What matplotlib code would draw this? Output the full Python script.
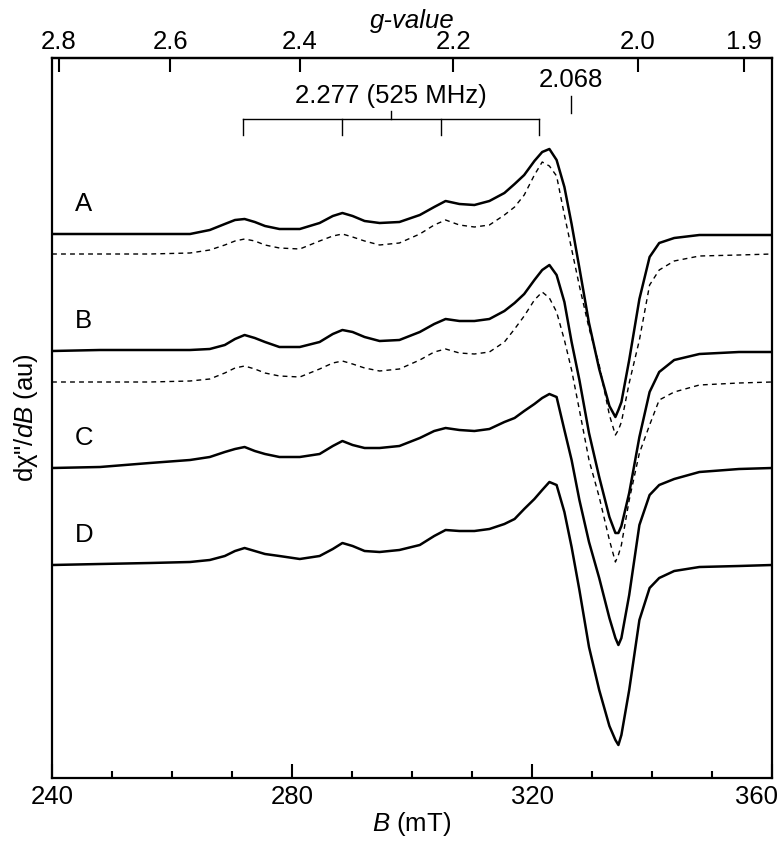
import numpy as np
import matplotlib
matplotlib.use('Agg')
from matplotlib import pyplot as plt
from matplotlib.ticker import MultipleLocator, NullLocator
from matplotlib.transforms import ScaledTranslation

plt.rcParams['font.family'] = ['Liberation Sans', 'DejaVu Sans']
plt.rcParams['mathtext.fontset'] = 'custom'
plt.rcParams['mathtext.rm'] = 'Liberation Sans'
plt.rcParams['mathtext.it'] = 'Liberation Sans:italic'

FREQ = 9.45      # GHz, microwave frequency
HB = 71.4477     # h/muB in mT GHz
FS = 18.5

# magnetic field (mT)
field = np.array([240.0, 248.0, 256.3, 263.0, 266.3, 268.8, 270.5, 272.1, 273.8, 275.5,
                  277.9, 281.3, 284.6, 286.8, 288.4, 290.1, 292.1, 294.6, 297.9, 301.3,
                  303.7, 305.6, 307.9, 310.4, 312.9, 315.4, 317.1, 318.7, 320.4, 321.7,
                  322.9, 324.1, 325.4, 326.6, 327.9, 329.5, 331.2, 332.9, 333.9, 334.4,
                  334.9, 336.2, 337.9, 339.6, 341.2, 343.7, 347.9, 354.5, 360.0])

# derivative signals (au), relative to each trace baseline
trace_a = [0, 0, 0, 0, 4, 10, 14, 15, 12, 8,
           5, 5, 11, 18, 21, 18, 13, 11, 12, 19,
           27, 33, 30, 29, 33, 41, 50, 59, 73, 82,
           85, 74, 47, 10, -34, -89, -135, -172, -183, -176,
           -168, -126, -65, -23, -9, -4, -1, -1, -1]
sim_a = [0, 0, 0, 1, 4, 9, 13, 15, 13, 9,
         6, 5, 13, 18, 20, 17, 13, 9, 11, 20,
         29, 34, 29, 27, 29, 39, 47, 59, 79, 92,
         88, 78, 39, 5, -32, -74, -111, -161, -181, -176,
         -168, -129, -86, -31, -16, -7, -2, -1, 0]
trace_b = [0, 1, 1, 1, 2, 6, 12, 16, 13, 9,
           4, 4, 9, 17, 21, 19, 14, 10, 11, 19,
           27, 32, 30, 30, 32, 40, 48, 57, 71, 81,
           86, 76, 49, 9, -29, -82, -126, -166, -182, -182,
           -175, -142, -86, -41, -21, -9, -3, -1, -1]
sim_b = [0, 0, 0, 1, 3, 9, 14, 16, 13, 9,
         6, 5, 13, 19, 21, 18, 14, 11, 13, 22,
         30, 33, 29, 28, 30, 40, 53, 66, 82, 90,
         84, 70, 42, 12, -28, -78, -115, -158, -180, -173,
         -163, -118, -71, -43, -18, -10, -3, -1, 0]
trace_c = [0, 1, 5, 8, 11, 16, 19, 21, 17, 14,
           11, 11, 14, 22, 27, 23, 20, 20, 22, 30,
           37, 40, 38, 37, 39, 46, 50, 57, 64, 70,
           74, 71, 38, 8, -32, -74, -110, -150, -170, -177,
           -170, -127, -57, -27, -17, -11, -4, -1, 0]
trace_d = [0, 1, 2, 3, 5, 9, 14, 17, 14, 11,
           9, 6, 9, 16, 22, 19, 14, 13, 15, 20,
           29, 35, 34, 34, 36, 41, 46, 56, 66, 75,
           83, 80, 53, 18, -25, -82, -125, -161, -175, -180,
           -170, -125, -55, -23, -13, -6, -2, -1, 0]

labels = ['A', 'B', 'C', 'D']
traces = [trace_a, trace_b, trace_c, trace_d]
offsets = [544, 427, 310, 213]
sims = [sim_a, sim_b]
sim_offsets = [524, 396]

b_ticks = [240, 280, 320, 360]
g_ticks = [2.8, 2.6, 2.4, 2.2, 2.0, 1.9]
g_iso = 2.277
a_hf = 525.0     # MHz
g_perp = 2.068


def b_to_g(b):
    b = np.asarray(b, dtype=float)
    with np.errstate(divide='ignore', invalid='ignore'):
        return HB * FREQ / b


fig = plt.figure(figsize=(7.81, 8.41), dpi=100)
ax = fig.add_axes([52 / 781, 63 / 841, 720 / 781, 720 / 841])

for tr, off in zip(traces, offsets):
    ax.plot(field, np.array(tr) + off, color='black', lw=1.8)
for sm, off in zip(sims, sim_offsets):
    ax.plot(field, np.array(sm) + off, color='black', lw=1.0, ls=(0, (3.5, 3)))

for lab, off in zip(labels, offsets):
    ax.text(245.3, off + 30, lab, fontsize=FS, ha='center', va='center')

# hyperfine comb for g = 2.277, A = 525 MHz
b_center = HB * FREQ / g_iso
a_mt = a_hf / (1000.0 * g_iso / HB)
comb = b_center + a_mt * np.array([-1.5, -0.5, 0.5, 1.5])
ax.plot([comb[0], comb[-1]], [659, 659], color='black', lw=1.0)
for b in comb:
    ax.plot([b, b], [659, 643], color='black', lw=1.0)
ax.plot([b_center, b_center], [659, 667], color='black', lw=1.0)
ax.text(b_center, 682, '%.3f (%d MHz)' % (g_iso, a_hf), fontsize=FS,
        ha='center', va='center')

b_perp = HB * FREQ / g_perp
ax.plot([b_perp, b_perp], [665, 682], color='black', lw=1.0)
ax.text(b_perp, 698, '%.3f' % g_perp, fontsize=FS, ha='center', va='center')

ax.set_xlim(240, 360)
ax.set_ylim(0, 720)
ax.set_xticks(b_ticks)
ax.xaxis.set_minor_locator(MultipleLocator(10))
ax.tick_params(axis='x', which='major', direction='in', length=10, width=1.5,
               labelsize=FS, top=False, pad=5)
ax.tick_params(axis='x', which='minor', direction='in', length=5, width=1.5, top=False)
ax.tick_params(axis='y', left=False, labelleft=False)
for s in ax.spines.values():
    s.set_linewidth(1.6)

# keep the last bottom label inside the figure
last = ax.xaxis.get_major_ticks()[len(b_ticks) - 1].label1
last.set_horizontalalignment('right')
last.set_transform(last.get_transform() + ScaledTranslation(0.06, 0, fig.dpi_scale_trans))

ax.set_xlabel('$B$ (mT)', fontsize=FS, labelpad=1)
ax.set_ylabel('d\u03c7"/$dB$ (au)', fontsize=FS, labelpad=9)

secax = ax.secondary_xaxis('top', functions=(b_to_g, b_to_g))
secax.set_xticks(g_ticks)
secax.set_xticklabels(['%.1f' % g for g in g_ticks])
secax.xaxis.set_minor_locator(NullLocator())
secax.tick_params(direction='in', length=10, width=1.5, labelsize=FS, pad=3)
secax.spines['top'].set_linewidth(1.6)
secax.set_xlabel('g-value', fontsize=FS, style='italic', labelpad=1)

fig.savefig('out.png', dpi=100)
